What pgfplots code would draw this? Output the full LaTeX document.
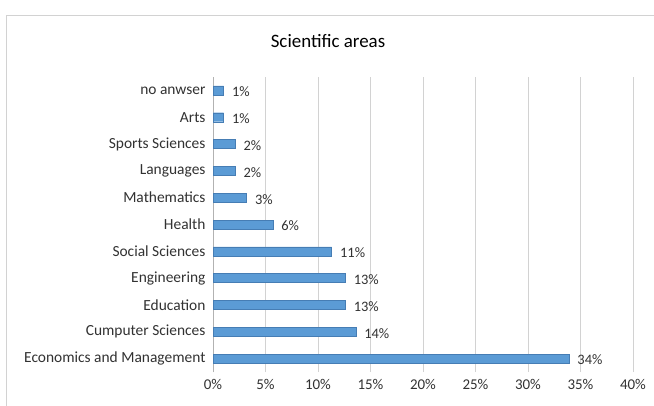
\documentclass[border=0pt]{standalone}
\usepackage{pgfplots}
\pgfplotsset{compat=1.18}
\usepackage{pgfplotstable}
\usepackage{fontspec}
\setmainfont{Carlito}
\definecolor{barblue}{RGB}{91,155,213}
\definecolor{baredge}{RGB}{70,125,180}
\definecolor{txt}{RGB}{50,50,50}
\pgfplotstableread{
y x lab
0 33.9 34
1 13.6 14
2 12.6 13
3 12.6 13
4 11.3 11
5 5.7 6
6 3.2 3
7 2.1 2
8 2.1 2
9 1.0 1
10 1.0 1
}\datatab
\begin{document}
\begin{tikzpicture}[x=1bp,y=1bp]
\useasboundingbox (0,0) rectangle (654,405);
\fill[white] (0,0) rectangle (654,405);
\draw[gray!35] (6,-10) -- (6,390) -- (670,390);
\node[font=\fontsize{19}{22}\selectfont, text=black] at (328,364) {Scientific areas};
\begin{axis}[
  at={(213bp,33bp)}, anchor=south west,
  scale only axis, width=420bp, height=295bp,
  xbar, bar width=9bp,
  xmin=0, xmax=40, ymin=-0.5, ymax=10.5,
  xtick={0,5,...,40},
  xticklabel={\pgfmathprintnumber{\tick}\%},
  /pgf/number format/assume math mode=true,
  ytick={0,...,10},
  yticklabels={Economics and Management,Cumputer Sciences,Education,Engineering,Social Sciences,Health,Mathematics,Languages,Sports Sciences,Arts,no anwser},
  major tick length=0pt,
  xmajorgrids, grid style={gray!35},
  axis lines*=left,
  x axis line style={draw=none},
  y axis line style={gray!60},
  xticklabel style={font=\fontsize{15}{17}\selectfont, text=txt, yshift=-4bp},
  yticklabel style={font=\fontsize{15.5}{17}\selectfont, text=txt, xshift=-4bp},
  nodes near coords={\pgfplotspointmeta\%},
  point meta=explicit symbolic,
  every node near coord/.append style={font=\fontsize{14.5}{17}\selectfont, text=txt, anchor=west, xshift=5bp, yshift=-1.5bp},
  clip=false,
]
\addplot[fill=barblue, draw=baredge] table[x=x, y=y, meta=lab] {\datatab};
\end{axis}
\end{tikzpicture}
\end{document}
